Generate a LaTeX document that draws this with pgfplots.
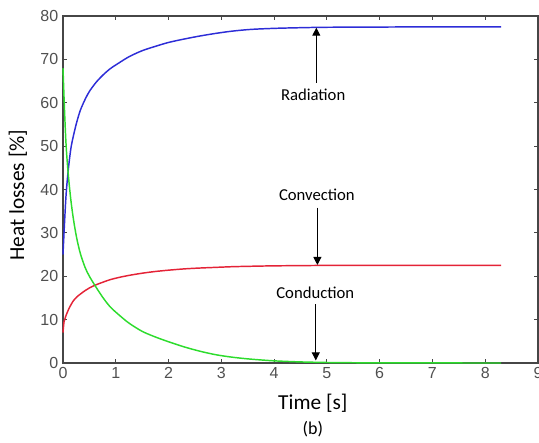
\documentclass[border=0pt]{standalone}
\usepackage{pgfplots}
\pgfplotsset{compat=1.18}
\usepackage{fontspec}
\setmainfont{Carlito}
\newfontfamily\arialf{Liberation Sans}
\usetikzlibrary{arrows.meta}
\definecolor{axgray}{RGB}{70,70,70}
\definecolor{tickgray}{RGB}{80,80,80}
\definecolor{radblue}{RGB}{45,45,215}
\definecolor{convred}{RGB}{228,35,55}
\definecolor{condgreen}{RGB}{45,220,45}

\pgfplotstableread{
x y
0 25
0.03 32.5
0.06 39
0.1 44.5
0.15 49.5
0.2 52.5
0.26 55.5
0.33 58.3
0.42 60.8
0.5 62.6
0.62 64.6
0.75 66.3
0.89 67.8
1.05 69.1
1.25 70.6
1.5 72
1.75 73
2 73.9
2.3 74.7
2.6 75.4
2.9 76
3.2 76.5
3.55 76.9
4 77.15
4.5 77.3
5 77.4
6 77.45
7 77.5
8.3 77.5
}\radiation

\pgfplotstableread{
x y
0 7
0.02 9.5
0.05 10.7
0.1 12.2
0.15 13.4
0.2 14.4
0.26 15.2
0.33 15.9
0.42 16.7
0.5 17.3
0.62 18
0.75 18.6
0.89 19.2
1.05 19.7
1.25 20.2
1.5 20.7
1.75 21.1
2 21.4
2.3 21.7
2.6 21.9
2.9 22.05
3.2 22.2
3.55 22.3
4 22.4
4.5 22.45
5 22.5
6 22.5
7 22.5
8.3 22.5
}\convection

\pgfplotstableread{
x y
0 68
0.03 58
0.06 50
0.1 43.5
0.15 37.5
0.2 33
0.26 28.8
0.33 25.2
0.42 22
0.5 20
0.62 17.6
0.75 15.2
0.89 13
1.05 11.2
1.25 9.2
1.5 7.3
1.75 6.0
2 4.9
2.3 3.7
2.6 2.7
2.9 1.9
3.2 1.35
3.55 0.9
4 0.5
4.5 0.25
5 0.12
5.5 0.06
6 0.03
7 0.01
8.3 0
}\conduction

\begin{document}
\begin{tikzpicture}
\begin{axis}[
  scale only axis,
  width=356.25pt, height=260.25pt,
  xmin=0, xmax=9, ymin=0, ymax=80,
  xtick={0,1,...,9}, ytick={0,10,...,80},
  tick align=inside,
  major tick length=3pt,
  axis line style={axgray, line width=1.1pt},
  every tick/.style={axgray, line width=0.9pt},
  /pgf/number format/assume math mode=true,
  ticklabel style={font=\arialf\fontsize{12}{14}\selectfont, text=tickgray},
  xlabel={Time [s]},
  ylabel={Heat losses [\%]},
  label style={font=\fontsize{16}{19}\selectfont},
  xlabel style={at={(rel axis cs:0.526,-0.115)}, anchor=center},
  ylabel style={at={(rel axis cs:-0.095,0.484)}, anchor=center},
  clip=false,
]
\addplot[radblue, line width=1.1pt, smooth, tension=0.5] table[x=x,y=y] {\radiation};
\addplot[convred, line width=1.1pt, smooth, tension=0.5] table[x=x,y=y] {\convection};
\addplot[condgreen, line width=1.1pt, smooth, tension=0.5] table[x=x,y=y] {\conduction};

\begin{scope}[font=\fontsize{12.5}{15}\selectfont]
\node at (axis cs:4.74,61.75) {Radiation};
\draw[line width=0.75pt, -{Triangle[length=6pt,width=6pt]}] (axis cs:4.8,64.6) -- (axis cs:4.8,77.3);
\node at (axis cs:4.81,38.7) {Convection};
\draw[line width=0.75pt, -{Triangle[length=6pt,width=6pt]}] (axis cs:4.82,35.8) -- (axis cs:4.82,22.6);
\node at (axis cs:4.78,16.2) {Conduction};
\draw[line width=0.75pt, -{Triangle[length=6pt,width=6pt]}] (axis cs:4.79,13.6) -- (axis cs:4.79,0.6);
\end{scope}
\node[font=\fontsize{13.5}{16}\selectfont] at (rel axis cs:0.526,-0.190) {(b)};

\coordinate (bbl) at (rel axis cs:-0.1326,-0.2277);
\coordinate (btr) at (rel axis cs:1.0021,1.0461);
\end{axis}
\pgfresetboundingbox
\path[use as bounding box] (bbl) rectangle (btr);
\end{tikzpicture}
\end{document}
